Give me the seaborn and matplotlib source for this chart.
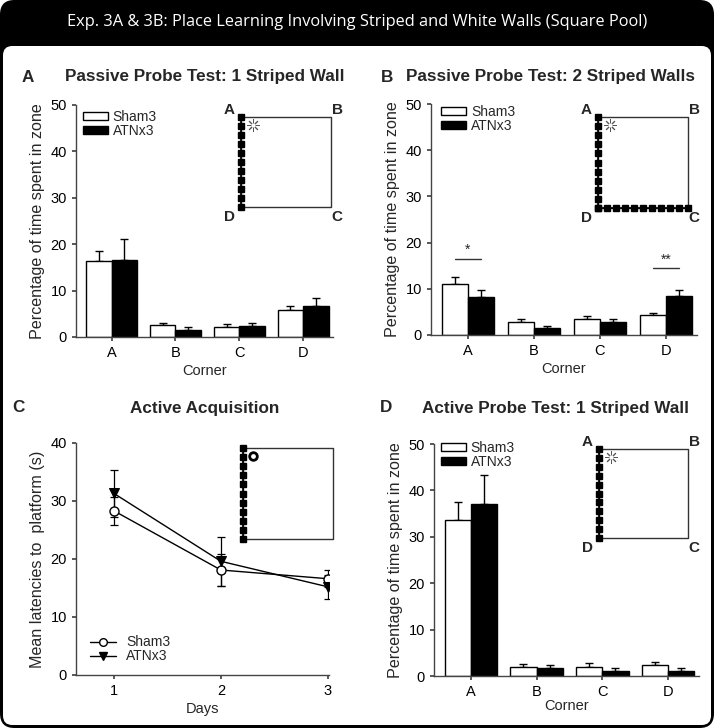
import numpy as np
import pandas as pd
import seaborn as sns
import matplotlib
matplotlib.use('Agg')
import matplotlib.pyplot as plt
from matplotlib.patches import FancyBboxPatch, Patch
from matplotlib.lines import Line2D
from matplotlib.container import BarContainer

# ---- data ----
corners = ['A', 'B', 'C', 'D']
groups = ['Sham3', 'ATNx3']

passive1_sham = [16.3, 2.5, 2.2, 5.9]
passive1_sham_err = [2.2, 0.5, 0.7, 0.8]
passive1_atn = [16.5, 1.5, 2.3, 6.6]
passive1_atn_err = [4.7, 0.7, 0.65, 1.7]

passive2_sham = [11.1, 2.8, 3.5, 4.4]
passive2_sham_err = [1.5, 0.6, 0.6, 0.35]
passive2_atn = [8.2, 1.45, 2.8, 8.5]
passive2_atn_err = [1.5, 0.5, 0.7, 1.3]

active_sham = [33.7, 1.95, 1.95, 2.45]
active_sham_err = [3.8, 0.65, 0.95, 0.55]
active_atn = [37.1, 1.75, 1.15, 1.15]
active_atn_err = [6.3, 0.7, 0.5, 0.5]

days = [1, 2, 3]
acq_sham = [28.3, 18.1, 16.6]
acq_sham_err = [2.4, 2.7, 1.5]
acq_atn = [31.3, 19.6, 15.2]
acq_atn_err = [4.0, 4.2, 2.1]

W, H = 714, 728

sns.set_theme(style='ticks')
plt.rcParams['font.family'] = ['Liberation Sans', 'DejaVu Sans']
plt.rcParams['axes.edgecolor'] = '#444444'
plt.rcParams['axes.linewidth'] = 1
plt.rcParams['xtick.color'] = '#444444'
plt.rcParams['ytick.color'] = '#444444'
plt.rcParams['xtick.labelcolor'] = 'black'
plt.rcParams['ytick.labelcolor'] = 'black'
plt.rcParams['xtick.labelsize'] = 10.5
plt.rcParams['ytick.labelsize'] = 10.5
plt.rcParams['axes.labelsize'] = 10.5
plt.rcParams['xtick.major.size'] = 3
plt.rcParams['ytick.major.size'] = 3

fig = plt.figure(figsize=(W / 100, H / 100), dpi=100, facecolor='white')

# frame: black rounded box with white inner panel
fig.patches.append(FancyBboxPatch((0, 0), 1, 1, boxstyle='round,pad=0,rounding_size=0.02',
                                  transform=fig.transFigure, fc='black', ec='none', zorder=-10))
fig.patches.append(FancyBboxPatch((3 / W, 3 / H), 1 - 6 / W, 1 - 49 / H,
                                  boxstyle='round,pad=0,rounding_size=0.013',
                                  transform=fig.transFigure, fc='white', ec='none', zorder=-9))
fig.text(0.5, 1 - 22 / H,
         'Exp. 3A & 3B: Place Learning Involving Striped and White Walls (Square Pool)',
         color='white', fontsize=11.8, ha='center', va='center', family='Open Sans')


def px_axes(x0, y0, x1, y1):
    return fig.add_axes([x0 / W, 1 - y1 / H, (x1 - x0) / W, (y1 - y0) / H])


def bars_of(ax):
    return [c for c in ax.containers if isinstance(c, BarContainer)]


def bar_panel(ax, sham, sham_err, atn, atn_err, leg_xy):
    df = pd.DataFrame({'corner': corners * 2,
                       'group': [groups[0]] * 4 + [groups[1]] * 4,
                       'value': sham + atn})
    sns.barplot(data=df, x='corner', y='value', hue='group', hue_order=groups,
                palette={'Sham3': 'white', 'ATNx3': 'black'}, edgecolor='black',
                linewidth=1, errorbar=None, width=0.8, ax=ax, legend=False, zorder=2)
    for cont, errs in zip(bars_of(ax), [sham_err, atn_err]):
        for bar, e in zip(cont, errs):
            ax.errorbar(bar.get_x() + bar.get_width() / 2, bar.get_height(),
                        yerr=[[0], [e]], color='black', lw=1, capsize=3, capthick=1, zorder=1)
    ax.set_ylim(0, 50)
    ax.set_yticks(range(0, 51, 10))
    ax.set_xlim(-0.56, 3.47)
    ax.set_ylabel('Percentage of time spent in zone', fontsize=11.6)
    ax.set_xlabel('Corner', labelpad=3)
    sns.despine(ax=ax)
    ax.legend(handles=[Patch(fc='white', ec='black', lw=1), Patch(fc='black', ec='black')],
              labels=groups, loc='upper left', bbox_to_anchor=leg_xy, frameon=False,
              fontsize=10, handlelength=1.8, handleheight=0.5, labelspacing=0.0,
              handletextpad=0.35, borderaxespad=0, borderpad=0)


def pool(x0, y0, x1, y1, walls=('left',), goal='star', labels=True):
    ax = px_axes(x0, y0, x1, y1)
    ax.set_xlim(0, 1)
    ax.set_ylim(0, 1)
    ax.axis('off')
    ax.plot([0, 1, 1, 0, 0], [1, 1, 0, 0, 1], color='#333333', lw=1, clip_on=False)
    n = 11
    if 'left' in walls:
        ax.plot([0, 0], [0, 1], color='black', lw=1.2, clip_on=False)
        ax.plot(np.zeros(n), np.linspace(0, 1, n), 's', color='black', ms=3.7, clip_on=False)
    if 'bottom' in walls:
        ax.plot([0, 1], [0, 0], color='black', lw=1.2, clip_on=False)
        ax.plot(np.linspace(0, 1, n), np.zeros(n), 's', color='black', ms=3.7, clip_on=False)
    if goal == 'star':
        ax.plot(0.13, 0.91, marker=(8, 2, 0), ms=9, mew=0.7, color='#555555')
        ax.plot(0.13, 0.91, 'o', ms=3, mfc='white', mec='none')
    else:
        ax.plot(0.11, 0.91, 'o', ms=5.5, mfc='white', mec='black', mew=2)
    if labels:
        kw = dict(fontsize=11, fontweight='bold', ha='center', va='center')
        ax.text(-0.13, 1.08, 'A', transform=ax.transAxes, **kw)
        ax.text(1.07, 1.08, 'B', transform=ax.transAxes, **kw)
        ax.text(-0.13, -0.11, 'D', transform=ax.transAxes, **kw)
        ax.text(1.07, -0.11, 'C', transform=ax.transAxes, **kw)


# ---- panel A ----
axA = px_axes(76, 105, 333, 337)
bar_panel(axA, passive1_sham, passive1_sham_err, passive1_atn, passive1_atn_err, (0.027, 0.98))

# ---- panel B ----
axB = px_axes(431, 104, 697, 335)
bar_panel(axB, passive2_sham, passive2_sham_err, passive2_atn, passive2_atn_err, (0.038, 0.995))
for i, txt, yl in [(0, '*', 16.5), (3, '**', 14.4)]:
    xs = [cont[i].get_x() + cont[i].get_width() / 2 for cont in bars_of(axB)]
    axB.plot(xs, [yl, yl], color='#333333', lw=1)
    axB.text(np.mean(xs), yl + 0.4, txt, ha='center', va='bottom', fontsize=10)

# ---- panel C ----
axC = px_axes(76, 443, 329, 675)
sns.lineplot(x=days, y=acq_sham, ax=axC, color='black', lw=1, marker='o', ms=6.5,
             markerfacecolor='white', markeredgecolor='black', mew=1, zorder=3)
sns.lineplot(x=days, y=acq_atn, ax=axC, color='black', lw=1, marker='v', ms=6.5,
             markerfacecolor='black', markeredgecolor='black', zorder=3)
axC.errorbar(days, acq_sham, yerr=acq_sham_err, fmt='none', ecolor='black', lw=0.9,
             capsize=3, capthick=0.9, zorder=2)
axC.errorbar(days, acq_atn, yerr=acq_atn_err, fmt='none', ecolor='black', lw=0.9,
             capsize=3, capthick=0.9, zorder=2)
axC.set_ylim(0, 40)
axC.set_yticks(range(0, 41, 10))
axC.set_xlim(0.645, 3.01)
axC.set_xticks(days)
axC.set_ylabel('Mean latencies to  platform (s)', fontsize=11.6)
axC.set_xlabel('Days', labelpad=3)
sns.despine(ax=axC)
axC.legend(handles=[Line2D([], [], color='black', lw=1, marker='o', ms=5.5, mfc='white', mec='black'),
                    Line2D([], [], color='black', lw=1, marker='v', ms=5.5, mfc='black', mec='black')],
           labels=groups, loc='lower left', bbox_to_anchor=(0.055, 0.05), frameon=False,
           fontsize=10, handlelength=1.9, labelspacing=0.0, handletextpad=0.7,
           borderaxespad=0, borderpad=0)

# ---- panel D ----
axD = px_axes(434, 444, 699, 676)
bar_panel(axD, active_sham, active_sham_err, active_atn, active_atn_err, (0.026, 1.012))
axD.xaxis.labelpad = 0

# ---- pool insets ----
pool(241, 117, 331, 207)
pool(598, 117, 688, 208, walls=('left', 'bottom'))
pool(243, 448, 333, 539, goal='ring', labels=False)
pool(599, 449, 688, 538)

# ---- panel titles ----
tkw = dict(fontsize=12.3, fontweight='bold', ha='center', va='center')
fig.text(28 / W, 1 - 77 / H, 'A', **tkw)
fig.text(205 / W, 1 - 77 / H, 'Passive Probe Test: 1 Striped Wall', **tkw)
fig.text(387 / W, 1 - 77 / H, 'B', **tkw)
fig.text(550 / W, 1 - 77 / H, 'Passive Probe Test: 2 Striped Walls', **tkw)
fig.text(18 / W, 1 - 408 / H, 'C', **tkw)
fig.text(205 / W, 1 - 408 / H, 'Active Acquisition', **tkw)
fig.text(386 / W, 1 - 408 / H, 'D', **tkw)
fig.text(555 / W, 1 - 408 / H, 'Active Probe Test: 1 Striped Wall', **tkw)

fig.savefig('out.png', dpi=100)
